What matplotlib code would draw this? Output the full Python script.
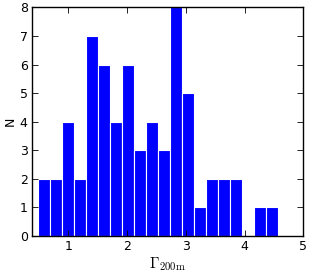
import numpy as np
import matplotlib
matplotlib.use("Agg")
import matplotlib.pyplot as plt

# histogram counts (20 bins between min and max)
counts = [2, 2, 4, 2, 7, 6, 4, 6, 3, 4, 3, 8, 5, 1, 2, 2, 2, 0, 1, 1]
bin_lo = 0.49
bin_hi = 4.57
edges = np.linspace(bin_lo, bin_hi, len(counts) + 1)

plt.rcParams['mathtext.fontset'] = 'cm'
plt.rcParams['font.size'] = 9

fig = plt.figure(figsize=(3.16, 2.75), dpi=100)
ax = fig.add_axes([0.101, 0.142, 0.859, 0.831])

ax.bar(edges[:-1], counts, width=np.diff(edges), align='edge',
       color='blue', edgecolor='white', linewidth=0.8)

ax.set_xlim(0.38, 5)
ax.set_ylim(0, 8)
ax.set_xticks([1, 2, 3, 4, 5])
ax.set_yticks(range(0, 9))
ax.tick_params(direction='in', top=True, right=True, length=4, width=0.6, pad=3)
for s in ax.spines.values():
    s.set_linewidth(1)

ax.set_xlabel(r'$\Gamma_{\rm 200m}$', fontsize=11, labelpad=2)
ax.set_ylabel('N', labelpad=2)

fig.savefig('out.png', dpi=100)
